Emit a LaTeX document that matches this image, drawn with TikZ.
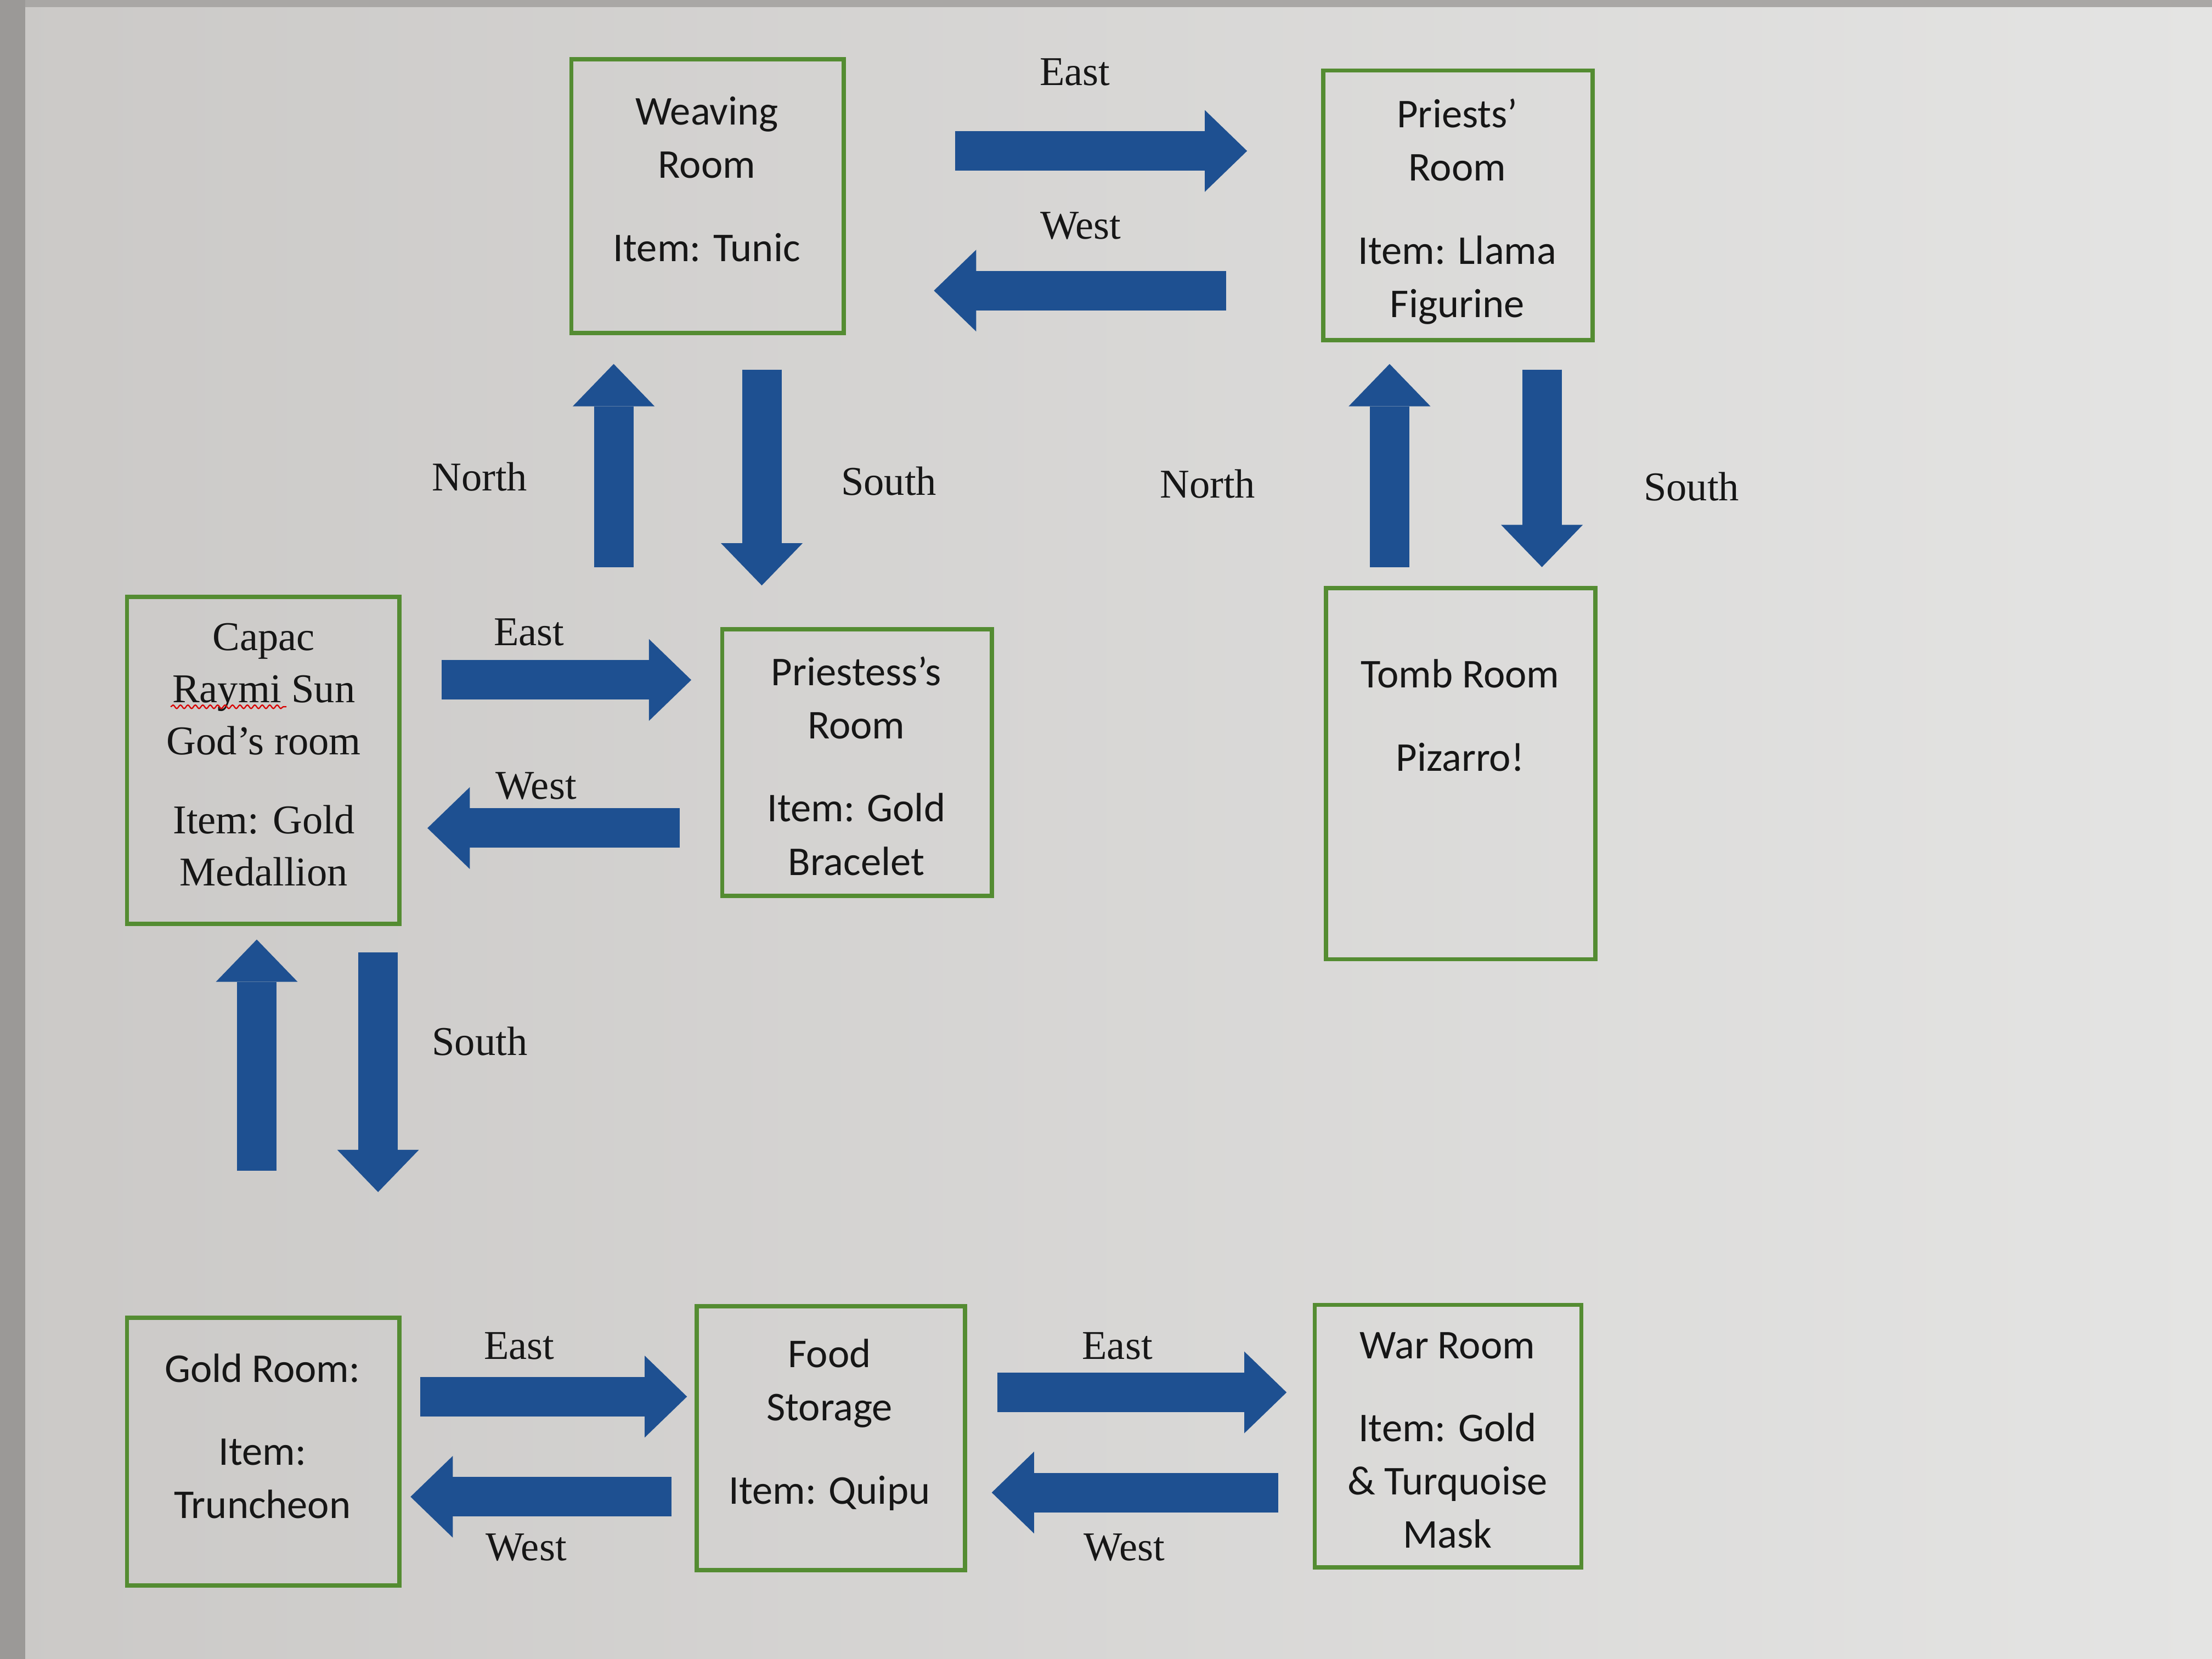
\documentclass[tikz,border=0pt]{standalone}
\usepackage{fontspec}
\setmainfont{Liberation Serif}
\newfontfamily\calib{Carlito}
\usetikzlibrary{arrows.meta,fit,decorations.pathmorphing}
\definecolor{bgA}{RGB}{203,201,199}
\definecolor{bgB}{RGB}{228,228,227}
\definecolor{bezel}{RGB}{155,153,151}
\definecolor{boxgreen}{RGB}{84,140,50}
\definecolor{arrowblue}{RGB}{30,80,145}
\definecolor{ink}{RGB}{22,22,22}
\begin{document}
\begin{tikzpicture}[x=0.02cm,y=-0.02cm,
  roombox/.style={draw=boxgreen, line width=0.06cm, inner sep=0pt},
  roomtext/.style={font=\calib\fontsize{16.5}{21.5}\selectfont, align=center, text=ink, inner sep=0pt},
  serifroom/.style={font=\fontsize{16.5}{21}\selectfont, align=center, text=ink, inner sep=0pt},
  dirlabel/.style={font=\fontsize{16.5}{20}\selectfont, text=ink, inner sep=0pt},
  bigarrow/.style={draw=arrowblue, line width=0.56cm,
    -{Triangle[width=1.16cm, length=0.6cm, line width=0pt]}}]
% background (photo of a screen)
\shade[left color=bgA, right color=bgB] (0,0) rectangle (1568,1176);
\fill[bezel] (0,0) rectangle (18,1176);
\fill[bezel!70!bgA] (18,0) rectangle (1568,5);

% room boxes
\node[roombox, fit={(405,42) (598,236)}] (weave) {};
\node[roombox, fit={(938,50) (1129,241)}] (priests) {};
\node[roombox, fit={(90,423) (283,655)}] (capac) {};
\node[roombox, fit={(512,446) (703,635)}] (priestess) {};
\node[roombox, fit={(940,417) (1131,680)}] (tomb) {};
\node[roombox, fit={(90,934) (283,1124)}] (gold) {};
\node[roombox, fit={(494,926) (684,1113)}] (food) {};
\node[roombox, fit={(932,925) (1121,1111)}] (war) {};

% room texts
\node[roomtext] (tweave) at (501,127) {Weaving\\Room\\[12pt]Item: Tunic};
\node[roomtext] (tpriests) at (1033,150) {Priests’\\Room\\[12pt]Item: Llama\\Figurine};
\node[serifroom] (tcapac) at (187,535) {Capac\\Raymi Sun\\God’s room\\[11pt]Item: Gold\\Medallion};
\node[roomtext] (tpriestess) at (607,543) {Priestess’s\\Room\\[12pt]Item: Gold\\Bracelet};
\node[roomtext] (ttomb) at (1035,507) {Tomb Room\\[12pt]Pizarro!};
\node[roomtext] (tgold) at (186,1018) {Gold Room:\\[12pt]Item:\\Truncheon};
\node[roomtext] (tfood) at (588,1010) {Food\\Storage\\[12pt]Item: Quipu};
\node[roomtext] (twar) at (1026,1021) {War Room\\[12pt]Item: Gold\\\&~Turquoise\\Mask};

% spelling squiggle under "Raymi"
\coordinate (sq1) at (121,501);
\coordinate (sq2) at (203,501);
\draw[red!85!black, line width=0.5pt, decorate,
  decoration={snake, amplitude=0.7pt, segment length=3pt}] (sq1) -- (sq2);

% arrow end points
\coordinate (e1a) at (677,107);  \coordinate (e1b) at (884,107);
\coordinate (w1a) at (869,206);  \coordinate (w1b) at (662,206);
\coordinate (n1a) at (435,402);  \coordinate (n1b) at (435,258);
\coordinate (s1a) at (540,262);  \coordinate (s1b) at (540,415);
\coordinate (n2a) at (985,402);  \coordinate (n2b) at (985,258);
\coordinate (s2a) at (1093,262); \coordinate (s2b) at (1093,402);
\coordinate (e2a) at (313,482);  \coordinate (e2b) at (490,482);
\coordinate (w2a) at (482,587);  \coordinate (w2b) at (303,587);
\coordinate (n3a) at (182,830);  \coordinate (n3b) at (182,666);
\coordinate (s3a) at (268,675);  \coordinate (s3b) at (268,845);
\coordinate (e3a) at (298,990);  \coordinate (e3b) at (487,990);
\coordinate (w3a) at (476,1061); \coordinate (w3b) at (291,1061);
\coordinate (e4a) at (707,987);  \coordinate (e4b) at (912,987);
\coordinate (w4a) at (906,1058); \coordinate (w4b) at (703,1058);

\foreach \p in {e1,w1,n1,s1,n2,s2,e2,w2,n3,s3,e3,w3,e4,w4}
  \draw[bigarrow] (\p a) -- (\p b);

% direction labels
\node[dirlabel] (le1) at (762,51) {East};
\node[dirlabel] (lw1) at (766,160) {West};
\node[dirlabel] (ln1) at (340,338) {North};
\node[dirlabel] (ls1) at (630,341) {South};
\node[dirlabel] (ln2) at (856,343) {North};
\node[dirlabel] (ls2) at (1199,345) {South};
\node[dirlabel] (le2) at (375,448) {East};
\node[dirlabel] (lw2) at (380,557) {West};
\node[dirlabel] (ls3) at (340,738) {South};
\node[dirlabel] (le3) at (368,954) {East};
\node[dirlabel] (lw3) at (373,1097) {West};
\node[dirlabel] (le4) at (792,954) {East};
\node[dirlabel] (lw4) at (797,1097) {West};
\end{tikzpicture}
\end{document}
